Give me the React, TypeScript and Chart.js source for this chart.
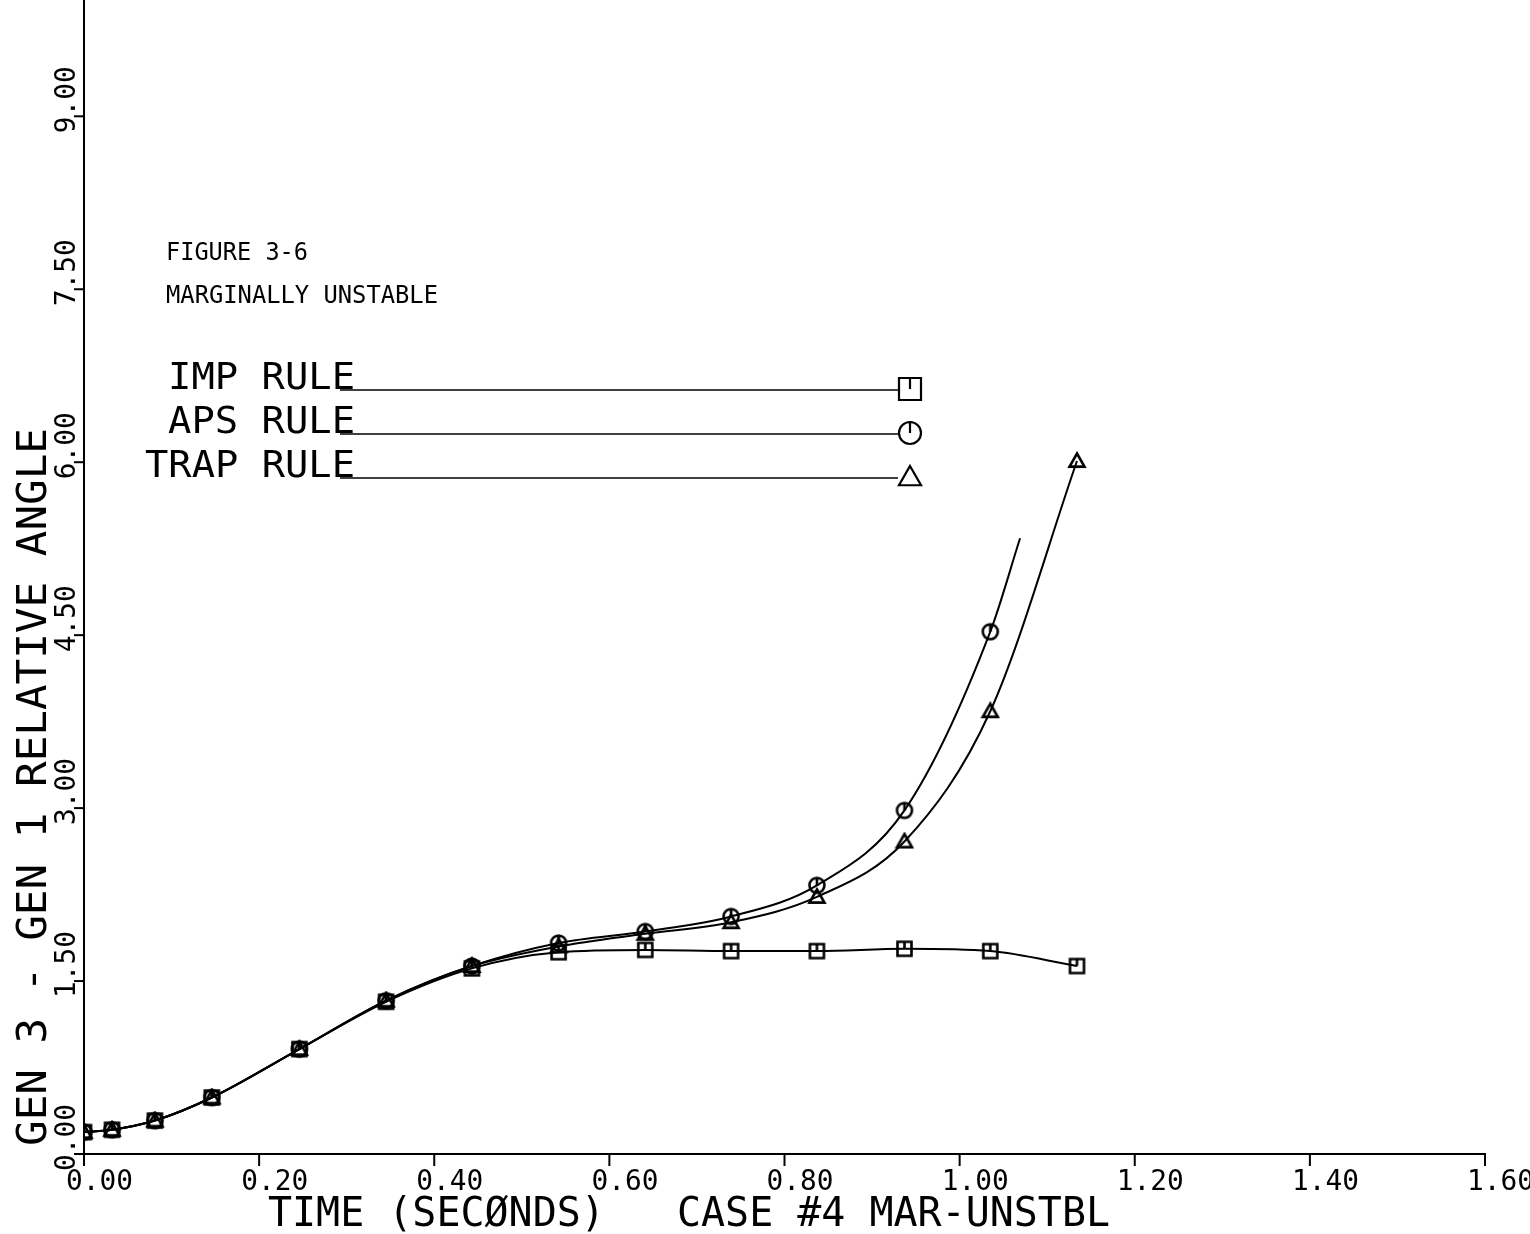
import React, { useEffect, useRef } from "react";
import { Chart, registerables } from "chart.js";

Chart.register(...registerables);

// ---- data ----
const TIME = [0, 0.032, 0.081, 0.146, 0.246, 0.345, 0.443, 0.542, 0.641, 0.739, 0.837, 0.937, 1.035, 1.134];
const IMP_RULE = [0.19, 0.21, 0.29, 0.49, 0.91, 1.32, 1.61, 1.75, 1.77, 1.76, 1.76, 1.78, 1.76, 1.63];
const APS_RULE = [0.19, 0.21, 0.29, 0.49, 0.91, 1.33, 1.63, 1.83, 1.93, 2.06, 2.33, 2.98, 4.53];
const APS_TAIL_TIME = [1.069];
const APS_TAIL_VALUE = [5.34];
const TRAP_RULE = [0.19, 0.21, 0.29, 0.49, 0.91, 1.33, 1.63, 1.8, 1.91, 2.01, 2.23, 2.71, 3.84, 6.01];

const X_TICKS = [0, 0.2, 0.4, 0.6, 0.8, 1.0, 1.2, 1.4, 1.6];
const X_TICK_LABELS = ["0.00", "0.20", "0.40", "0.60", "0.80", "1.00", "1.20", "1.40", "1.60"];
const Y_TICKS = [0, 1.5, 3, 4.5, 6, 7.5, 9];
const Y_TICK_LABELS = ["0.00", "1.50", "3.00", "4.50", "6.00", "7.50", "9.00"];

const X_TITLE = "TIME (SECØNDS)   CASE #4 MAR-UNSTBL";
const Y_TITLE = "GEN 3 - GEN 1 RELATIVE ANGLE";
const NOTE_LINES = ["FIGURE 3-6", "MARGINALLY UNSTABLE"];
const LEGEND_LABELS = ["IMP RULE", "APS RULE", "TRAP RULE"];

const FONT = '"DejaVu Sans Mono", "Liberation Mono", monospace';

function makeMarker(kind: string, size: number, lw: number): HTMLCanvasElement {
  const c = document.createElement("canvas");
  c.width = size + 5;
  c.height = size + 5;
  const g = c.getContext("2d")!;
  g.strokeStyle = "#000";
  g.lineWidth = lw;
  const m = c.width / 2;
  const r = size / 2;
  g.beginPath();
  if (kind === "square") {
    g.rect(m - r, m - r, size, size);
    g.moveTo(m, m - r);
    g.lineTo(m, m);
  } else if (kind === "circle") {
    g.arc(m, m, r, 0, Math.PI * 2);
    g.moveTo(m, m - r);
    g.lineTo(m, m);
  } else {
    g.moveTo(m, m - r);
    g.lineTo(m + r, m + r * 0.75);
    g.lineTo(m - r, m + r * 0.75);
    g.closePath();
  }
  g.stroke();
  return c;
}

function drawMarker(ctx: CanvasRenderingContext2D, kind: string, x: number, y: number, size: number) {
  const r = size / 2;
  ctx.beginPath();
  if (kind === "square") {
    ctx.rect(x - r, y - r, size, size);
    ctx.moveTo(x, y - r);
    ctx.lineTo(x, y);
  } else if (kind === "circle") {
    ctx.arc(x, y, r, 0, Math.PI * 2);
    ctx.moveTo(x, y - r);
    ctx.lineTo(x, y);
  } else {
    ctx.moveTo(x, y - r);
    ctx.lineTo(x + r, y + r * 0.75);
    ctx.lineTo(x - r, y + r * 0.75);
    ctx.closePath();
  }
  ctx.stroke();
}

// draws text starting at (x, y) on the baseline, squeezed/stretched to width
function drawFitted(
  ctx: CanvasRenderingContext2D,
  text: string,
  x: number,
  y: number,
  size: number,
  width: number,
  rotate: boolean,
  alignRight = false
) {
  ctx.save();
  ctx.font = `${size}px ${FONT}`;
  ctx.textAlign = "left";
  ctx.textBaseline = "alphabetic";
  ctx.fillStyle = "#000";
  const w = ctx.measureText(text).width;
  const sx = width / w;
  ctx.translate(x, y);
  if (rotate) ctx.rotate(-Math.PI / 2);
  ctx.scale(sx, 1);
  ctx.fillText(text, alignRight ? -w : 0, 0);
  ctx.restore();
}

const decorPlugin = {
  id: "decor",
  afterDraw(chart: any) {
    const ctx: CanvasRenderingContext2D = chart.ctx;
    const xs = chart.scales.x;
    const ys = chart.scales.y;
    const area = chart.chartArea;
    ctx.save();
    ctx.strokeStyle = "#000";
    ctx.lineWidth = 2;
    // x ticks + labels
    X_TICKS.forEach((v, i) => {
      const px = xs.getPixelForValue(v);
      ctx.beginPath();
      ctx.moveTo(px, area.bottom);
      ctx.lineTo(px, area.bottom + 12);
      ctx.stroke();
      drawFitted(ctx, X_TICK_LABELS[i], px - 18, area.bottom + 36, 28, 67, false);
    });
    // y ticks + labels
    Y_TICKS.forEach((v, i) => {
      const py = ys.getPixelForValue(v);
      ctx.beginPath();
      ctx.moveTo(area.left, py);
      ctx.lineTo(area.left - 10, py);
      ctx.stroke();
      drawFitted(ctx, Y_TICK_LABELS[i], area.left - 9, py + 17, 28, 67, true);
    });
    // axis titles
    drawFitted(ctx, X_TITLE, 268, 1226, 40, 842, false);
    drawFitted(ctx, Y_TITLE, 46, 1146, 41, 718, true);
    // figure note
    drawFitted(ctx, NOTE_LINES[0], 166, 260, 24, 142, false);
    drawFitted(ctx, NOTE_LINES[1], 166, 303, 24, 272, false);
    // legend
    const legendY = [389, 433, 477];
    const legendW = [187, 187, 210];
    const kinds = ["square", "circle", "triangle"];
    legendY.forEach((ly, i) => {
      drawFitted(ctx, LEGEND_LABELS[i], 355, ly, 38, legendW[i], false, true);
      ctx.lineWidth = 1.5;
      ctx.beginPath();
      ctx.moveTo(340, ly + 1);
      ctx.lineTo(898, ly + 1);
      ctx.stroke();
      ctx.lineWidth = 2.2;
      drawMarker(ctx, kinds[i], 910, ly, 22);
    });
    ctx.restore();
  },
};

export default function App() {
  const ref = useRef<HTMLCanvasElement | null>(null);
  useEffect(() => {
    if (!ref.current) return;
    const sq = makeMarker("square", 14, 2.6);
    const ci = makeMarker("circle", 15, 2.6);
    const tr = makeMarker("triangle", 15, 2.6);

    const impData = TIME.map((t, i) => ({ x: t, y: IMP_RULE[i] }));
    const apsData = APS_RULE.map((v, i) => ({ x: TIME[i], y: v })).concat(
      APS_TAIL_TIME.map((t, i) => ({ x: t, y: APS_TAIL_VALUE[i] }))
    );
    const apsRadius = apsData.map((_, i) => (i < APS_RULE.length ? 7 : 0));
    const trapData = TIME.map((t, i) => ({ x: t, y: TRAP_RULE[i] }));

    const common = {
      borderColor: "#000",
      backgroundColor: "#000",
      borderWidth: 2,
      showLine: true,
      fill: false,
      cubicInterpolationMode: "monotone" as const,
      pointBorderColor: "#000",
    };

    const chart = new Chart(ref.current, {
      type: "scatter",
      data: {
        datasets: [
          { ...common, label: LEGEND_LABELS[0], data: impData, pointStyle: sq as any, pointRadius: 7 },
          { ...common, label: LEGEND_LABELS[1], data: apsData, pointStyle: ci as any, pointRadius: apsRadius },
          { ...common, label: LEGEND_LABELS[2], data: trapData, pointStyle: tr as any, pointRadius: 7 },
        ],
      },
      options: {
        animation: false,
        responsive: false,
        devicePixelRatio: 1,
        layout: { autoPadding: false, padding: { left: 84, right: 45, top: 1, bottom: 80 } },
        plugins: { legend: { display: false }, tooltip: { enabled: false } },
        scales: {
          x: {
            type: "linear",
            min: 0,
            max: 1.6,
            ticks: { display: false },
            grid: { display: false, drawTicks: false },
            border: { display: true, color: "#000", width: 2 },
            title: { display: false },
          },
          y: {
            type: "linear",
            min: 0,
            max: 10,
            ticks: { display: false },
            grid: { display: false, drawTicks: false },
            border: { display: true, color: "#000", width: 2 },
            title: { display: false },
          },
        },
      },
      plugins: [decorPlugin],
    });
    return () => chart.destroy();
  }, []);

  return (
    <div style={{ position: "absolute", left: 0, top: 0, width: 1530, height: 1234, background: "#fff" }}>
      <canvas ref={ref} width={1530} height={1234} style={{ width: 1530, height: 1234 }} />
    </div>
  );
}
